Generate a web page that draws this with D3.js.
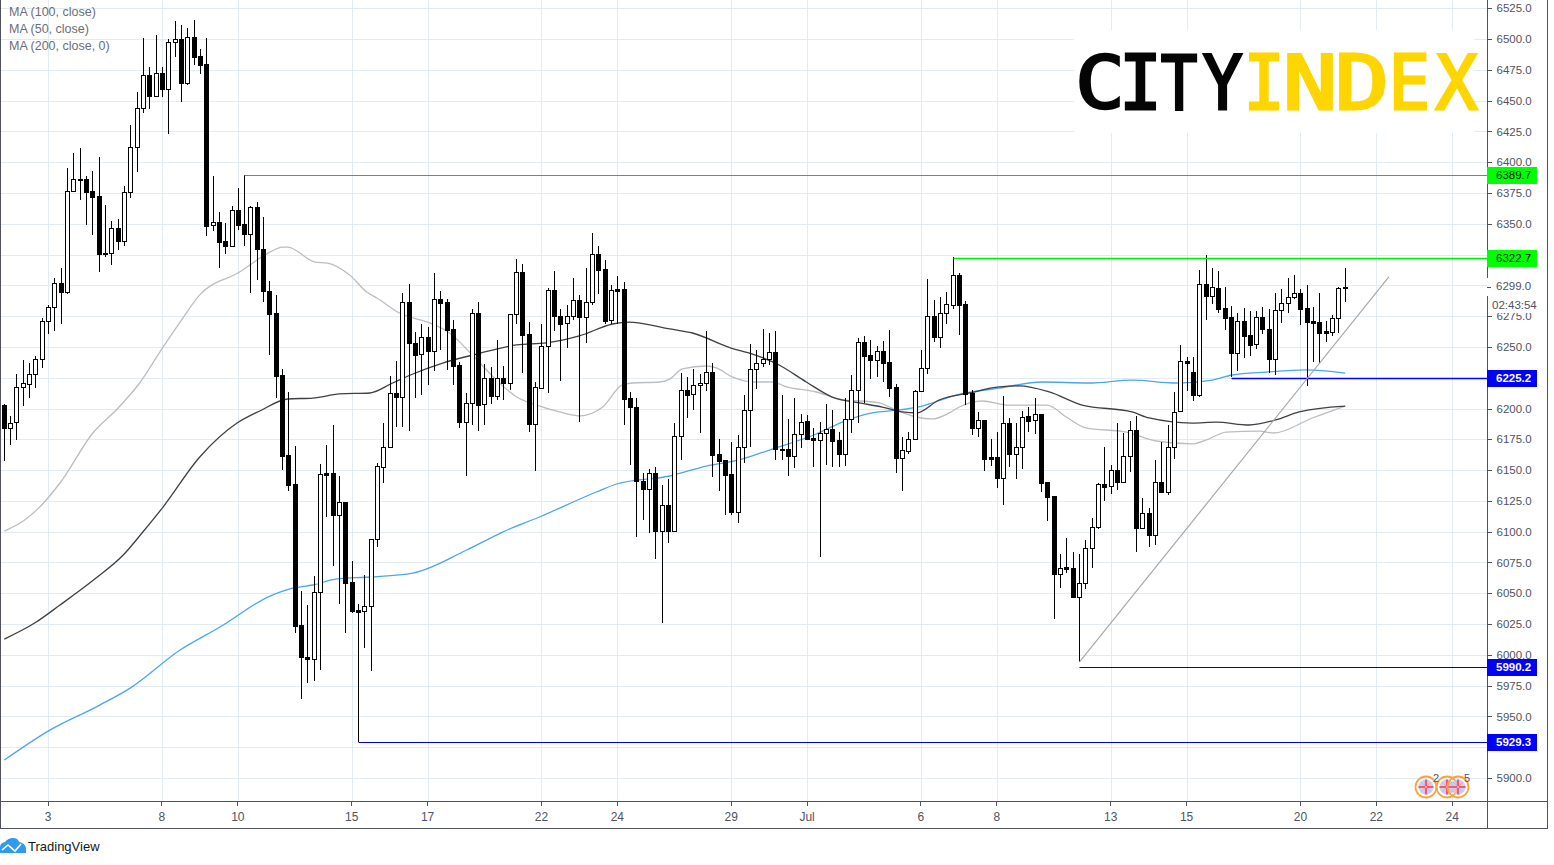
<!DOCTYPE html>
<html><head><meta charset="utf-8">
<style>html,body{margin:0;padding:0;background:#fff}svg{display:block}text{font-family:"Liberation Sans",Arial,sans-serif}</style>
<script src="https://cdn.jsdelivr.net/npm/d3@7/dist/d3.min.js"></script></head><body>
<svg id="c" width="1554" height="865"></svg>
<script>
const opens=[6202.8,6184.2,6189.0,6217.5,6219.9,6228.0,6240.2,6271.0,6282.4,6301.9,6294.6,6376.6,6386.4,6386.4,6376.6,6372.5,6326.3,6326.3,6346.6,6336.0,6375.8,6412.3,6444.0,6470.8,6453.7,6472.4,6459.4,6497.6,6500.0,6464.3,6501.7,6486.2,6479.7,6349.0,6351.4,6336.0,6331.9,6361.2,6349.8,6341.7,6363.6,6329.5,6295.4,6277.5,6227.2,6162.2,6138.7,6024.2,5998.2,5996.6,6051.0,6147.6,6147.6,6113.5,6124.1,6059.1,6036.4,6035.6,6039.6,6094.0,6152.5,6168.7,6212.6,6209.3,6286.5,6253.2,6244.3,6258.1,6246.7,6288.9,6286.5,6264.6,6235.3,6189.0,6204.5,6277.5,6203.7,6224.8,6210.1,6224.8,6220.7,6276.7,6310.8,6260.5,6187.4,6216.6,6250.7,6296.2,6275.1,6269.4,6275.1,6288.1,6274.3,6286.5,6325.5,6313.3,6271.9,6297.0,6297.0,6208.5,6201.2,6141.1,6134.6,6147.6,6100.5,6121.6,6100.5,6177.7,6215.0,6211.8,6219.1,6220.7,6229.7,6163.1,6158.2,6146.8,6116.0,6168.7,6198.8,6232.1,6236.9,6240.2,6245.9,6167.1,6167.1,6161.4,6179.3,6189.8,6176.0,6174.4,6180.1,6183.4,6174.4,6163.1,6191.5,6215.0,6254.0,6243.4,6239.4,6246.7,6237.8,6217.5,6159.8,6165.5,6175.2,6214.2,6232.9,6275.1,6258.1,6277.5,6284.0,6308.4,6284.9,6212.6,6184.2,6190.7,6160.6,6160.6,6143.6,6188.2,6163.1,6168.7,6193.9,6190.7,6195.5,6140.3,6128.9,6065.6,6071.3,6070.5,6046.9,6058.3,6086.7,6103.8,6138.7,6137.1,6150.1,6140.3,6161.4,6182.5,6102.9,6115.1,6097.3,6140.3,6132.2,6168.7,6198.0,6238.6,6229.6,6210.9,6301.1,6291.3,6297.8,6281.6,6274.3,6245.1,6271.0,6259.7,6252.4,6274.3,6264.6,6240.2,6280.0,6285.7,6290.5,6293.8,6281.6,6271.0,6270.2,6262.9,6262.1,6273.5,6298.0];
const highs=[6203.7,6193.9,6228.0,6239.4,6236.9,6242.6,6273.5,6284.0,6306.0,6314.1,6395.3,6407.5,6411.5,6388.8,6392.8,6404.2,6365.2,6352.2,6353.9,6380.7,6430.2,6457.0,6500.8,6477.3,6503.3,6477.3,6500.0,6514.6,6511.4,6509.0,6515.5,6491.9,6500.8,6388.8,6359.6,6350.6,6364.4,6379.0,6389.7,6364.4,6367.7,6355.5,6303.5,6292.2,6232.1,6213.4,6169.5,6051.8,6040.4,6064.0,6154.9,6170.4,6186.6,6145.2,6124.1,6076.2,6041.3,6064.8,6094.0,6155.7,6188.2,6226.4,6238.6,6293.8,6301.1,6262.1,6268.6,6266.2,6310.0,6295.4,6288.9,6271.9,6237.8,6212.6,6280.8,6286.5,6236.1,6233.7,6255.6,6234.5,6276.7,6321.4,6317.3,6270.2,6221.5,6268.6,6297.8,6311.7,6280.8,6284.0,6306.0,6292.2,6314.1,6342.5,6331.9,6320.6,6300.3,6307.6,6302.7,6213.4,6208.5,6147.6,6150.9,6152.5,6137.9,6142.7,6188.2,6228.8,6225.6,6232.1,6228.0,6262.9,6236.9,6175.2,6158.2,6172.8,6178.5,6211.0,6252.4,6247.5,6264.6,6261.3,6262.9,6211.0,6191.5,6208.5,6195.5,6194.7,6184.2,6189.0,6203.7,6198.8,6180.9,6208.5,6227.2,6257.2,6258.9,6255.6,6250.7,6254.8,6263.7,6219.9,6176.9,6180.9,6215.0,6247.5,6305.2,6288.1,6290.5,6294.6,6322.7,6310.0,6287.3,6215.0,6197.2,6190.7,6175.2,6180.9,6210.1,6192.3,6188.2,6198.0,6201.2,6208.5,6195.5,6140.3,6128.9,6081.9,6094.8,6083.5,6081.9,6093.2,6111.1,6139.5,6168.7,6154.1,6188.2,6180.1,6189.8,6193.9,6127.3,6119.2,6158.2,6172.8,6186.6,6213.4,6251.6,6241.8,6241.8,6312.5,6324.6,6314.1,6311.7,6298.7,6283.2,6277.5,6281.6,6279.2,6279.2,6282.4,6280.8,6293.8,6297.0,6306.0,6308.4,6297.0,6300.3,6282.4,6293.8,6271.0,6275.9,6298.7,6314.1];
const lows=[6157.4,6170.4,6174.4,6202.0,6208.5,6216.6,6232.9,6260.5,6262.9,6268.6,6293.0,6376.6,6369.3,6349.0,6340.9,6310.8,6323.0,6316.5,6328.7,6331.9,6370.9,6392.0,6439.9,6443.2,6453.7,6452.9,6422.9,6485.4,6448.9,6462.7,6478.9,6471.6,6340.1,6344.1,6314.1,6325.5,6331.9,6344.9,6331.9,6293.8,6304.3,6286.5,6243.4,6208.5,6150.1,6133.0,6017.7,5964.1,5977.1,5978.7,5987.7,6111.9,6072.1,6041.3,6017.7,6033.9,5929.3,6005.5,5986.8,6087.5,6139.5,6167.9,6185.0,6185.0,6181.7,6208.5,6211.0,6219.1,6230.4,6247.5,6231.3,6219.1,6184.2,6145.2,6186.6,6181.7,6186.6,6203.7,6206.9,6206.9,6215.0,6268.6,6228.8,6180.9,6149.2,6215.8,6212.6,6262.9,6222.3,6249.1,6271.9,6189.0,6253.2,6284.0,6293.0,6268.6,6268.6,6268.6,6186.6,6154.1,6095.7,6109.5,6098.9,6077.8,6025.8,6090.8,6100.5,6158.2,6192.3,6198.8,6180.1,6214.2,6144.4,6133.0,6113.5,6113.5,6107.0,6155.7,6168.7,6215.8,6233.7,6235.3,6158.2,6158.2,6145.2,6151.7,6167.9,6174.4,6152.5,6079.4,6154.1,6152.5,6152.5,6153.3,6180.1,6188.2,6204.5,6224.0,6225.6,6221.5,6209.3,6147.6,6133.0,6163.1,6175.2,6214.2,6228.0,6254.0,6249.1,6268.6,6280.8,6259.7,6202.8,6178.5,6176.9,6149.2,6153.3,6135.4,6121.6,6152.5,6142.8,6150.9,6180.9,6179.3,6132.2,6108.6,6029.1,6054.2,6066.4,6046.9,5994.2,6053.4,6070.5,6102.1,6124.9,6130.6,6133.8,6139.5,6148.4,6083.5,6102.9,6087.5,6089.2,6131.4,6129.8,6159.0,6198.0,6214.2,6206.1,6209.3,6271.9,6284.9,6277.5,6263.7,6225.6,6230.4,6241.0,6242.6,6248.3,6260.5,6228.8,6227.2,6269.4,6277.5,6288.9,6267.8,6218.3,6237.8,6237.0,6254.0,6258.9,6261.3,6286.5];
const closes=[6184.2,6188.2,6217.5,6220.7,6228.0,6240.2,6271.0,6282.4,6301.9,6294.6,6376.6,6386.4,6386.0,6375.8,6371.7,6325.5,6326.0,6346.6,6336.0,6375.8,6412.3,6444.0,6470.8,6453.7,6472.4,6459.4,6497.6,6500.0,6464.3,6501.7,6485.4,6478.9,6348.2,6351.4,6335.2,6331.9,6361.2,6349.0,6341.7,6363.6,6329.5,6295.4,6276.7,6226.4,6161.4,6137.9,6023.4,5998.2,5996.6,6051.0,6146.8,6146.0,6113.5,6124.1,6058.3,6035.6,6034.8,6039.6,6094.0,6153.3,6168.7,6212.6,6209.3,6286.5,6253.2,6243.4,6258.1,6246.7,6288.9,6285.7,6263.7,6234.5,6189.0,6204.5,6277.5,6202.8,6224.8,6210.1,6224.8,6220.7,6276.7,6310.8,6259.7,6187.4,6217.5,6250.7,6296.2,6275.1,6268.6,6275.1,6288.1,6274.3,6286.5,6325.5,6312.5,6271.0,6296.2,6295.4,6207.7,6201.2,6141.1,6134.6,6147.6,6100.5,6121.6,6100.5,6177.7,6215.0,6211.0,6219.1,6220.7,6229.7,6162.2,6157.4,6146.0,6116.0,6168.7,6198.8,6232.1,6236.9,6240.2,6245.9,6167.1,6166.3,6161.4,6179.3,6189.0,6175.2,6174.4,6180.1,6183.4,6173.6,6163.1,6191.5,6215.0,6254.0,6242.6,6239.4,6246.7,6236.9,6216.6,6159.8,6166.3,6175.2,6214.2,6232.9,6275.1,6258.1,6277.5,6284.9,6308.4,6284.0,6211.8,6184.2,6190.7,6159.0,6159.0,6143.6,6188.2,6163.1,6168.7,6193.1,6189.8,6195.5,6139.5,6128.1,6065.6,6070.5,6069.7,6046.9,6058.3,6086.7,6103.8,6138.7,6136.3,6150.1,6140.3,6161.4,6182.5,6102.9,6115.1,6097.3,6140.3,6132.2,6168.7,6197.2,6238.6,6236.9,6210.9,6301.1,6291.3,6298.7,6280.8,6273.5,6245.1,6271.0,6258.9,6251.6,6274.3,6264.6,6240.2,6280.0,6285.7,6290.5,6293.8,6280.8,6270.2,6269.4,6261.3,6261.3,6273.5,6297.8,6299.0];

const maLightIdx=[0,3,5.6,8.8,14,18,21.4,25.1,27.8,30.9,37.2,41.5,44,44.8,49.1,51.1,54.6,57.3,58.9,62.5,67.7,70.4,74,78.3,81,84.2,87.8,90.9,94.6,97.7,99.3,103.6,105.2,107.2,111,112.6,115.1,118.3,121.4,123.7,128.4,132,138.3,141,144.2,146.7,149.4,151,154.6,158.9,164.9,167.9,171,177.4,182.1,187.8,190,193.2,198.4,200.7,206.8,212];
const maLightVal=[6100.5,6108.6,6120,6139.5,6180.1,6200.4,6220.7,6249.9,6270.2,6292.2,6310.8,6325.5,6331.1,6331.1,6318.9,6318.1,6308.4,6294.6,6289.7,6277.5,6268.6,6261.3,6243.4,6220.7,6209.3,6202.8,6197.2,6193.9,6201.2,6219.1,6220.7,6221.5,6223.9,6232.1,6234.5,6232.9,6225.6,6221.5,6221.5,6217.5,6213.4,6207.7,6204.5,6198.8,6193.1,6191.5,6196.4,6201.2,6206.1,6202.8,6202.8,6193.1,6184.2,6180.9,6173.6,6171.2,6174.4,6180.9,6181.7,6180.1,6192.3,6202];
const maDarkIdx=[0,4.8,8.8,14.3,18.8,21.9,25.1,30.9,36.8,40.4,44.8,48.8,53,57.8,61.4,64.6,69.3,74.7,81,85.7,90.9,96.2,98.8,103.6,105.2,108.8,114.9,118.3,122.5,126.8,130.9,135.2,138.8,142,144.2,147.8,152.6,157.3,160.5,165.2,170.4,178.3,181,187.8,191.6,196.8,201,204.7,212];
const maDarkVal=[6012.8,6025.8,6040.4,6061.5,6081,6099.7,6120,6160.6,6188.2,6198,6207.7,6208.5,6211.8,6212.6,6220.7,6228,6236.9,6244.2,6251.6,6253.2,6258.9,6268.6,6270.2,6266.2,6264.6,6261.3,6249.1,6244.2,6235.3,6221.5,6209.3,6204.5,6201.2,6197.2,6196.4,6206.9,6212.6,6217.5,6218.3,6213.4,6202.8,6197.2,6192.3,6188.2,6189,6186.6,6190.7,6197.2,6202];
const maBlueIdx=[0,7.2,15.1,19.9,27.8,34.1,42,45.6,48.8,52.6,57.8,64.6,73.1,78.8,84.6,93.6,96.8,105.2,111,116.2,121.4,128.4,132.5,137.2,141.5,145.1,150.5,157.3,164.1,171.5,178.3,185.3,191,194.1,199.5,205.8,212];
const maBlueVal=[5914.6,5938.9,5959.2,5973,6003.9,6022.6,6047.7,6054.2,6056.7,6061.6,6063.2,6066.4,6085.1,6099.7,6111.9,6132.2,6138.7,6145.2,6153.3,6158.2,6167.1,6179.3,6189,6196.4,6198.8,6202,6210.9,6216.6,6221.5,6220.7,6223.1,6220.7,6223.1,6227.2,6229.6,6231.3,6228.8];

const levelVals=[6389.7,6322.7,6225.2,5990.2,5929.3];
const levelStart=[38,150,194,170,56];
const levelColors=["#18c818","#00f000","#0000ff","#0000c8","#0000e6"];
const levelWidths=[1,1.4,1.4,1,1];
const levelTagFill=["#00ff00","#00ff00","#0000ff","#0000ff","#0000ff"];
const levelTagText=["#131722","#131722","#ffffff","#ffffff","#ffffff"];
const trendIdx=[170,218.9];
const trendVal=[5994.2,6306.8];
const priceTicks=d3.range(5900,6526,25);
const hiddenPriceLabels=[6300,6325,6225,5925];
const timeTickIdx=[7,25,37,55,67,85,97,115,127,145,157,175,187,205,217,229];
const timeTickLabels=["3","8","10","15","17","22","24","29","Jul","6","8","13","15","20","22","24"];
const legendLabels=["MA (100, close)","MA (50, close)","MA (200, close, 0)"];
const logoLetters=["C","I","T","Y","I","N","D","E","X"];
const logoColors=["#050505","#050505","#050505","#050505","#ffd500","#ffd500","#ffd500","#ffd500","#ffd500"];
const logoSpans=[[1079,1120],[1124,1157],[1160,1198],[1202,1243],[1248,1280],[1287,1333],[1339,1386],[1393,1428],[1434,1479]];
const lastPrice=6299.0, countdown="02:43:54";

const svg=d3.select("#c");
const axisX=1487,axisY=801,rightX=1547,bottomY=828;
const x=d3.scaleLinear().domain([0,212]).range([4.3,1345.2]);
const y=d3.scaleLinear().domain([5900,6500]).range([778,39]);
const cx=i=>Math.floor(x(i))+0.5;
const py=v=>Math.round(y(v))+0.5;
const pyL=v=>Math.round(y(v)+0.3)+0.5;
const axisCol="#50535e",gridCol="#e1ecf2";

// grid
const g=svg.append("g").attr("shape-rendering","crispEdges").attr("stroke",gridCol).attr("stroke-width",1);
g.selectAll("line.h").data(priceTicks).join("line").attr("class","h").attr("x1",1).attr("x2",axisX).attr("y1",py).attr("y2",py);
g.selectAll("line.v").data(timeTickIdx).join("line").attr("class","v").attr("y1",0).attr("y2",axisY).attr("x1",cx).attr("x2",cx);

// logo
svg.append("rect").attr("x",1074).attr("y",30).attr("width",400).attr("height",103).attr("fill","#fff");
const mctx=document.createElement("canvas").getContext("2d");
const logoFont="'DejaVu Sans Mono',monospace";
mctx.font="80px "+logoFont;
const logo=svg.append("g");
logoLetters.forEach((ch,i)=>{
  const m=mctx.measureText(ch);
  const sw=3, x0=logoSpans[i][0]+sw/2, x1=logoSpans[i][1]-sw/2;
  const ink=m.actualBoundingBoxRight+m.actualBoundingBoxLeft;
  const asc=m.actualBoundingBoxAscent, des=m.actualBoundingBoxDescent;
  const sx=(x1-x0)/ink, sy=(110-52-sw)/(asc+des);
  logo.append("text").attr("style","font-family:"+logoFont).attr("font-size",80)
    .attr("fill",logoColors[i]).attr("stroke",logoColors[i]).attr("stroke-width",sw).attr("stroke-linejoin","miter")
    .attr("transform",`translate(${x0+m.actualBoundingBoxLeft*sx},${110-sw/2-des*sy}) scale(${sx},${sy})`)
    .text(ch);
});

// MAs
const line=(xs,vs)=>d3.line().x((d,i)=>x(xs[i])).y(d=>y(d)).curve(d3.curveMonotoneX)(vs);
const maG=svg.append("g").attr("fill","none").attr("stroke-width",1.3);
maG.append("path").attr("d",line(maLightIdx,maLightVal)).attr("stroke","#bdbcc2");
maG.append("path").attr("d",line(maBlueIdx,maBlueVal)).attr("stroke","#4aa6f0");
maG.append("path").attr("d",line(maDarkIdx,maDarkVal)).attr("stroke","#3f3f46");

// candles
const idx=d3.range(opens.length);
const cg=svg.append("g").attr("shape-rendering","crispEdges");
cg.selectAll("line").data(idx).join("line").attr("x1",cx).attr("x2",cx).attr("y1",i=>y(highs[i])).attr("y2",i=>y(lows[i])).attr("stroke","#000");
cg.selectAll("rect").data(idx).join("rect")
 .attr("x",i=>cx(i)-2).attr("width",4)
 .attr("y",i=>py(Math.max(opens[i],closes[i])))
 .attr("height",i=>Math.max(1,py(Math.min(opens[i],closes[i]))-py(Math.max(opens[i],closes[i]))))
 .attr("fill",i=>closes[i]>=opens[i]?"#fff":"#000").attr("stroke","#000");

// level lines + trend
const lg=svg.append("g");
lg.selectAll("line").data(levelVals).join("line")
 .attr("x1",(d,i)=>cx(levelStart[i])).attr("x2",axisX).attr("y1",pyL).attr("y2",pyL)
 .attr("stroke",(d,i)=>levelColors[i]).attr("stroke-width",(d,i)=>levelWidths[i]);
lg.append("line").attr("x1",x(trendIdx[0])).attr("y1",y(trendVal[0])).attr("x2",x(trendIdx[1])).attr("y2",y(trendVal[1])).attr("stroke","#a8a8a8").attr("stroke-width",1.2);

// frame/axes
svg.append("rect").attr("x",axisX).attr("y",0).attr("width",rightX-axisX).attr("height",bottomY).attr("fill","#fff");
svg.append("rect").attr("x",0).attr("y",axisY).attr("width",rightX).attr("height",bottomY-axisY).attr("fill","#fff");
const yAxis=d3.axisRight(y).tickValues(priceTicks.filter(d=>!hiddenPriceLabels.includes(d))).tickSize(4).tickPadding(5).tickFormat(d3.format(".1f"));
const ya=svg.append("g").attr("transform",`translate(${axisX+0.5},0)`).call(yAxis);
ya.select(".domain").remove();
ya.selectAll("text").attr("font-size",11.5).attr("fill",axisCol).attr("style","font-family:'Liberation Sans',Arial,sans-serif");
ya.selectAll("line").attr("stroke",axisCol).attr("shape-rendering","crispEdges");

const xAxis=d3.axisBottom(x).tickValues(timeTickIdx).tickSize(4).tickPadding(7).tickFormat((d,i)=>timeTickLabels[i]);
const xa=svg.append("g").attr("transform",`translate(-1,${axisY+0.5})`).call(xAxis);
xa.select(".domain").remove();
xa.selectAll("text").attr("font-size",12).attr("fill",axisCol).attr("style","font-family:'Liberation Sans',Arial,sans-serif");
xa.selectAll("line").attr("stroke",axisCol).attr("shape-rendering","crispEdges");

const fr=svg.append("g").attr("stroke",axisCol).attr("shape-rendering","crispEdges");
// countdown box
svg.append("rect").attr("x",axisX+1).attr("y",296).attr("width",58).attr("height",17).attr("fill","#fff");
fr.append("line").attr("x1",0.5).attr("x2",0.5).attr("y1",0).attr("y2",bottomY+0.5);
fr.append("line").attr("x1",rightX+0.5).attr("x2",rightX+0.5).attr("y1",0).attr("y2",bottomY+0.5);
fr.append("line").attr("x1",0).attr("x2",rightX).attr("y1",axisY+0.5).attr("y2",axisY+0.5);
fr.append("line").attr("x1",0).attr("x2",rightX).attr("y1",bottomY+0.5).attr("y2",bottomY+0.5);
fr.append("line").attr("x1",axisX+0.5).attr("x2",axisX+0.5).attr("y1",0).attr("y2",278);
fr.append("line").attr("x1",axisX+0.5).attr("x2",axisX+0.5).attr("y1",296).attr("y2",bottomY);

// last price tag
const lp=svg.append("g");
lp.append("rect").attr("x",axisX).attr("y",278).attr("width",50).attr("height",18).attr("fill","#fff");
lp.append("line").attr("x1",axisX).attr("x2",axisX+4).attr("y1",py(lastPrice)).attr("y2",py(lastPrice)).attr("stroke",axisCol).attr("shape-rendering","crispEdges");
lp.append("text").attr("x",axisX+9).attr("y",y(lastPrice)).attr("dy","0.32em").attr("font-size",11.5).attr("fill",axisCol).text(d3.format(".1f")(lastPrice));
svg.append("text").attr("x",axisX+5).attr("y",305).attr("dy","0.32em").attr("font-size",11.5).attr("fill",axisCol).text(countdown);

// level tags
const tg=svg.append("g");
tg.selectAll("rect").data(levelVals).join("rect").attr("x",axisX).attr("width",50).attr("height",17).attr("y",d=>pyL(d)-8.5).attr("fill",(d,i)=>levelTagFill[i]);
tg.selectAll("text").data(levelVals).join("text").attr("x",axisX+9).attr("y",d=>pyL(d)).attr("dy","0.33em").attr("font-size",11.5)
 .attr("font-weight",(d,i)=>i>1?"bold":"normal").attr("fill",(d,i)=>levelTagText[i]).text(d3.format(".1f"));

// legend
svg.append("g").selectAll("text").data(legendLabels).join("text").attr("x",9).attr("y",(d,i)=>12+17*i).attr("dy","0.35em").attr("font-size",12.5).attr("fill","#6b6e78").text(d=>d);

// event flags
const flagCx=[1426,1447,1458];
const fl=svg.append("g");
flagCx.forEach(c=>{
 const f=fl.append("g").attr("transform",`translate(${c},787)`);
 f.append("circle").attr("r",10.5).attr("fill","none").attr("stroke","#f7a440").attr("stroke-width",1.8);
 f.append("circle").attr("r",7.5).attr("fill","#c3c8e6").attr("fill-opacity",0.85);
 f.append("path").attr("d","M-7.5,0H7.5M0,-7.5V7.5").attr("stroke","#ee5a78").attr("stroke-width",2.2);
 f.append("path").attr("d","M-5,-5L5,5M5,-5L-5,5").attr("stroke","#f3a6b8").attr("stroke-width",1);
});
svg.append("text").attr("x",1436).attr("y",778).attr("dy","0.35em").attr("text-anchor","middle").attr("font-size",11).attr("fill",axisCol).text("2");
svg.append("text").attr("x",1467).attr("y",778).attr("dy","0.35em").attr("text-anchor","middle").attr("font-size",11).attr("fill",axisCol).text("5");

// TradingView mark
const tv=svg.append("g");
tv.append("path").attr("d","M0,853 L0,847 Q0,843 5,842 Q8,838 13,838 Q18,838 19,842 Q25,843 26,848 L26,853 Z").attr("fill","#2f9bf0");
tv.append("path").attr("d","M2,850 L8,845 L15,851 L21,844").attr("fill","none").attr("stroke","#fff").attr("stroke-width",1.6);
tv.append("text").attr("x",28).attr("y",846).attr("dy","0.35em").attr("font-size",13).attr("fill","#131722").text("TradingView");
</script>
</body></html>
